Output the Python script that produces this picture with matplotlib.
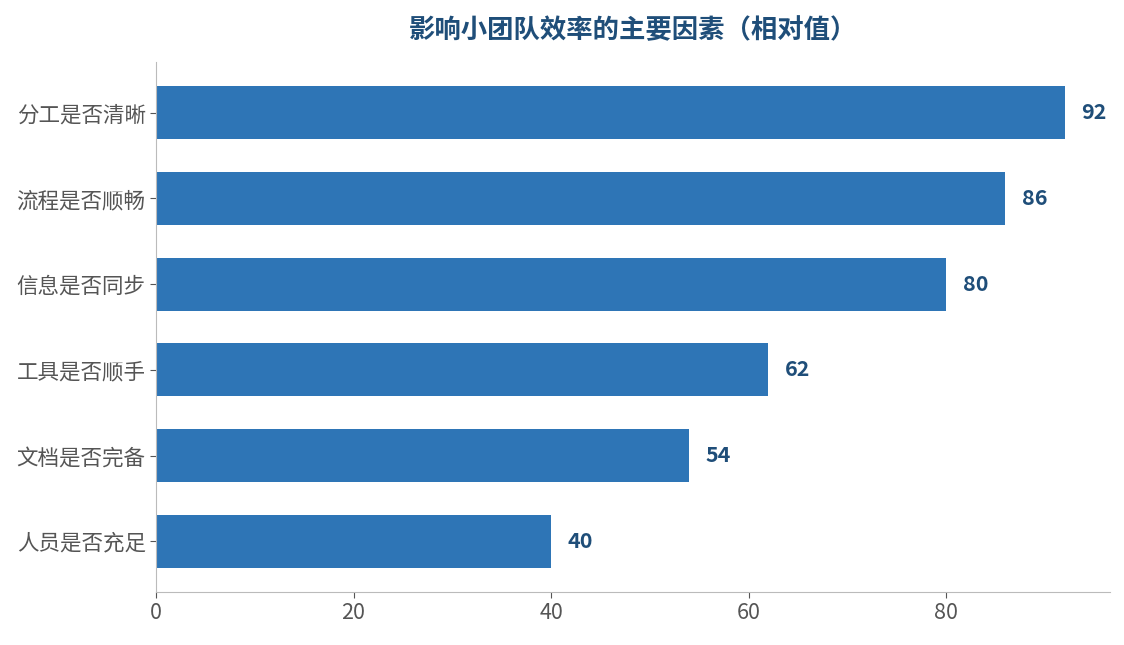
import matplotlib
matplotlib.use("Agg")
import matplotlib.pyplot as plt

plt.rcParams['font.family'] = ['Noto Sans CJK SC', 'DejaVu Sans']

# data, top to bottom as shown
factors = ["分工是否清晰", "流程是否顺畅", "信息是否同步", "工具是否顺手", "文档是否完备", "人员是否充足"]
scores = [92, 86, 80, 62, 54, 40]
title = "影响小团队效率的主要因素（相对值）"

bar_color = "#2E75B6"
dark_blue = "#1F4E79"
grey = "#555555"

fig = plt.figure(figsize=(11.24, 6.45), dpi=100)
ax = fig.add_axes([0.1388, 0.0822, 0.8487, 0.8217])

ypos = list(range(len(factors)))[::-1]
bars = ax.barh(ypos, scores, height=0.62, color=bar_color)

for y, v in zip(ypos, scores):
    ax.annotate(str(v), (v, y), xytext=(12, 0), textcoords="offset points",
                va="center", ha="left", fontsize=15.5, fontweight="bold", color=dark_blue)

ax.set_yticks(ypos)
ax.set_yticklabels(factors)
ax.set_xlim(0, max(scores) * 1.05)
ax.set_ylim(-0.59, len(factors) - 0.41)
ax.set_xticks([0, 20, 40, 60, 80])

ax.tick_params(axis="both", colors=grey, labelcolor=grey, labelsize=15.5, length=4)
for side in ("top", "right"):
    ax.spines[side].set_visible(False)
for side in ("left", "bottom"):
    ax.spines[side].set_color("#bbbbbb")

ax.set_title(title, fontsize=19, fontweight="bold", color=dark_blue, pad=17)

fig.savefig("out.png", dpi=100)
